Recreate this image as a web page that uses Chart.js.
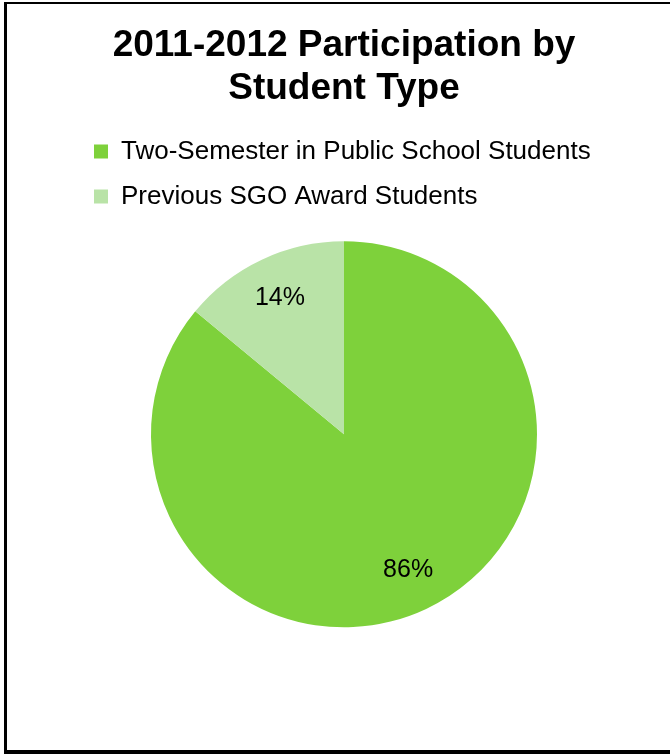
<!DOCTYPE html>
<html>
<head>
<meta charset="utf-8">
<title>2011-2012 Participation by Student Type</title>
<script src="https://cdn.jsdelivr.net/npm/chart.js@4.4.0/dist/chart.umd.min.js"></script>
<style>
    html, body { margin: 0; padding: 0; background: #fff; overflow: hidden; }
    #frame {
        position: absolute; left: 4px; top: 2px;
        width: 720px; height: 746px;
        border-left: 3px solid #000;
        border-top: 2px solid #000;
        border-bottom: 4px solid #000;
    }
    #chart { position: absolute; left: 0; top: 0; }
</style>
</head>
<body>
<div id="frame"></div>
<canvas id="chart" width="670" height="755"></canvas>
<script>
const titleLines = ['2011-2012 Participation by', 'Student Type'];
const categories = ['Two-Semester in Public School Students', 'Previous SGO Award Students'];
const shares = [86, 14];
const sliceColors = ['#7ed13b', '#b9e3a7'];

// percentage text inside each slice
const sliceLabels = {
    id: 'sliceLabels',
    afterDatasetsDraw(chart) {
        const { ctx } = chart;
        const meta = chart.getDatasetMeta(0);
        ctx.save();
        ctx.font = '25px "Liberation Sans", Arial, sans-serif';
        ctx.fillStyle = '#000';
        ctx.textAlign = 'center';
        ctx.textBaseline = 'middle';
        meta.data.forEach((arc, i) => {
            const { x, y, startAngle, endAngle, outerRadius } = arc.getProps(['x', 'y', 'startAngle', 'endAngle', 'outerRadius'], true);
            const mid = (startAngle + endAngle) / 2;
            const r = outerRadius * 0.78;
            ctx.fillText(shares[i] + '%', x + Math.cos(mid) * r, y + Math.sin(mid) * r);
        });
        ctx.restore();
    }
};

new Chart(document.getElementById('chart'), {
    type: 'pie',
    data: {
        labels: categories,
        datasets: [{
            data: shares,
            backgroundColor: sliceColors,
            borderWidth: 0,
            radius: 193
        }]
    },
    options: {
        responsive: false,
        animation: false,
        layout: { padding: { left: 75, right: 57, top: 0, bottom: 106 } },
        plugins: {
            title: {
                display: true,
                text: titleLines,
                color: '#000',
                font: { family: '"Liberation Sans", Arial, sans-serif', size: 37, weight: 'bold', lineHeight: 1.17 },
                padding: { top: 24, bottom: 9 }
            },
            legend: {
                position: 'top',
                align: 'start',
                labels: {
                    color: '#000',
                    font: { family: '"Liberation Sans", Arial, sans-serif', size: 26 },
                    boxWidth: 14,
                    boxHeight: 14,
                    padding: 19
                }
            },
            tooltip: { enabled: false }
        }
    },
    plugins: [sliceLabels]
});
</script>
</body>
</html>
